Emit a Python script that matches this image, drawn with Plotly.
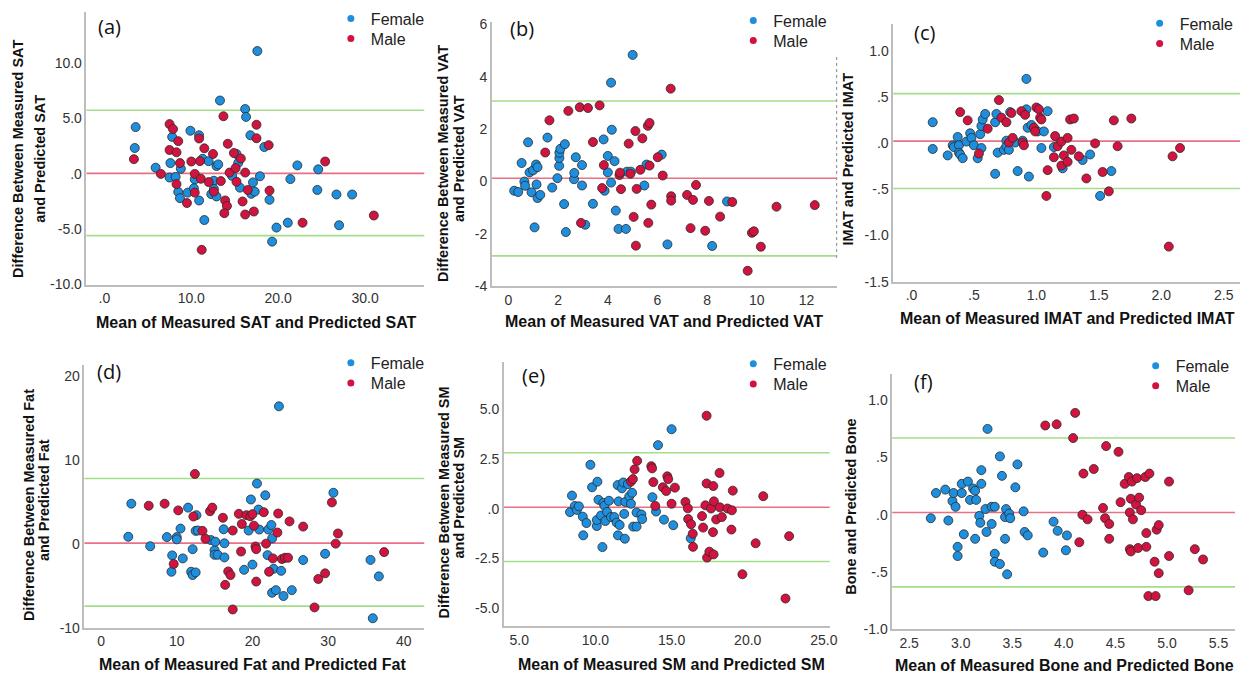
import plotly.graph_objects as go

W, H = 1248, 683

# ---------------- data ----------------
# (a) SAT
sat_f_x = [3.6,3.5,5.9,7.6,7.8,7.5,8.2,8.8,8.5,8.7,9.6,9.9,10.4,10.3,10.9,10.9,11.3,11.5,12.0,12.3,12.6,12.6,12.9,12.9,13.1,13.3,14.7,15.2,15.4,15.6,16.2,16.3,16.8,16.9,17.1,17.3,17.9,17.6,18.4,19.0,19.3,19.8,21.1,21.4,22.2,24.5,24.6,26.7,27.0,28.5]
sat_f_y = [4.23,2.34,0.56,0.98,3.34,-0.33,-0.27,0.47,-1.63,-2.19,-1.69,3.9,-0.5,-1.3,3.49,-2.4,1.36,-4.17,1.15,-1.83,-0.62,-1.36,-2.04,0.71,0.86,6.63,-0.18,1.8,1.0,-1.24,5.86,5.15,3.49,-1.8,-0.77,-1.6,-0.21,11.1,2.43,-2.34,-6.12,-4.85,-4.41,-0.47,0.77,-1.45,0.41,-1.86,-4.64,-1.86]
sat_m_x = [3.4,6.5,7.5,7.9,8.5,7.5,8.3,8.7,8.3,9.5,10.0,10.4,10.4,10.9,11.0,11.1,11.5,11.2,12.0,12.5,12.6,13.4,13.7,13.9,14.1,13.8,14.2,14.4,14.9,15.1,15.2,15.7,15.9,16.2,16.2,16.5,17.2,17.5,17.5,18.9,19.0,22.8,25.4,31.0]
sat_m_y = [1.33,0.0,4.5,4.05,2.96,2.16,1.95,0.98,-0.92,-2.63,1.12,0.0,-1.69,3.2,1.15,-0.44,2.31,-6.86,-0.74,1.8,-1.6,-0.65,5.21,-2.4,-2.9,-3.55,2.72,0.12,1.89,0.53,-0.71,1.39,-2.49,0.12,-3.67,-1.45,-3.4,4.44,3.22,2.6,-1.51,-4.41,1.12,-3.76]
sat_lines = [0.05, 5.75, -5.58]  # mean, upper, lower

# (b) VAT
vat_f_x = [0.23,0.39,0.53,0.64,0.67,0.79,0.85,0.93,0.99,1.05,1.11,1.17,1.13,1.17,1.28,1.57,1.76,1.97,2.04,2.05,2.05,2.09,2.24,2.27,2.31,2.64,2.65,2.71,2.96,2.96,3.09,3.4,3.83,3.87,4.0,4.0,4.13,4.16,4.13,4.27,4.32,4.43,4.73,4.77,4.93,5.0,5.47,5.56,6.17,6.4,8.2,8.8]
vat_f_y = [-0.35,-0.4,0.71,0.0,-0.16,1.5,0.35,-0.41,0.43,-1.75,0.65,0.55,-0.11,-0.63,-0.51,1.68,-0.23,0.13,0.6,0.9,1.1,1.25,-0.86,1.43,-1.93,0.09,0.33,0.93,0.63,-0.15,-1.65,-0.85,1.61,-0.35,0.98,0.35,3.78,1.98,-0.04,0.78,-1.11,-1.81,-1.81,0.38,0.38,4.84,-0.15,0.65,1.03,-2.4,-2.46,-0.76]
vat_m_x = [1.48,1.65,2.41,2.87,2.92,3.2,3.4,3.67,3.77,3.84,4.47,4.49,4.53,4.84,4.91,5.04,5.11,5.13,5.16,5.31,5.39,5.61,5.68,5.63,5.68,5.75,6.01,6.21,6.53,6.55,6.55,7.19,7.33,7.43,7.55,7.92,8.07,8.52,9.01,9.63,9.8,9.88,10.16,10.79,12.33]
vat_m_y = [1.11,2.34,2.7,2.84,-1.58,2.81,1.51,2.91,-0.25,0.63,0.25,0.34,-0.29,1.45,0.3,-1.35,1.93,-2.45,-0.28,0.45,1.65,2.13,2.24,-1.58,0.61,-0.88,0.93,0.23,3.55,-0.56,-0.73,-0.51,-1.78,-0.7,-0.13,-1.88,-0.74,-1.34,-0.78,-3.41,-1.96,-1.9,-2.49,-0.96,-0.9]
vat_lines = [0.125, 3.08, -2.84]

# (c) IMAT
imat_f_x = [0.17,0.17,0.29,0.33,0.34,0.37,0.38,0.38,0.39,0.41,0.44,0.47,0.48,0.5,0.53,0.55,0.56,0.56,0.57,0.59,0.67,0.67,0.68,0.69,0.74,0.76,0.76,0.78,0.79,0.83,0.85,0.89,0.92,0.92,0.93,0.94,0.96,1.01,1.04,1.06,1.09,1.14,1.21,1.37,1.43,1.51,1.6]
imat_f_y = [0.23,-0.06,-0.13,-0.02,-0.04,0.07,-0.02,-0.1,-0.12,-0.16,0.02,0.11,0.06,-0.02,-0.16,0.1,-0.05,0.19,0.26,0.32,-0.33,0.23,0.32,-0.1,-0.07,0.03,-0.03,-0.07,0.34,0.01,-0.3,0.03,0.7,0.37,0.17,-0.36,0.2,0.13,-0.05,0.13,0.35,-0.04,-0.27,-0.18,-0.12,-0.57,-0.3]
imat_m_x = [0.39,0.45,0.54,0.61,0.7,0.72,0.76,0.78,0.8,0.81,0.88,0.89,0.9,0.91,0.98,0.99,1.0,1.02,1.03,1.04,1.08,1.09,1.14,1.15,1.17,1.2,1.2,1.22,1.25,1.25,1.27,1.3,1.28,1.34,1.4,1.47,1.53,1.58,1.62,1.65,1.76,2.06,2.09,2.15]
imat_m_y = [0.34,0.25,-0.11,0.16,0.47,0.28,0.23,0.01,0.33,0.06,0.35,0.01,-0.02,0.31,0.17,0.13,0.39,0.37,0.28,0.26,-0.57,-0.29,-0.15,0.08,-0.03,0.02,-0.24,-0.13,-0.2,0.06,0.26,0.27,-0.07,-0.14,-0.38,0.0,-0.31,-0.52,0.25,-0.03,0.27,-1.12,-0.14,-0.05]
imat_lines = [0.025, 0.54, -0.49]

# (d) Fat
fat_f_x = [3.6,4.0,6.5,8.7,9.4,9.3,10.0,10.0,10.5,10.8,11.5,11.9,12.1,12.1,12.5,12.6,12.5,12.8,14.5,15.0,15.0,15.1,15.4,16.2,16.3,16.3,18.9,19.5,19.8,20.0,20.6,20.8,20.9,21.7,22.0,22.1,22.5,22.6,22.8,22.6,23.1,23.5,23.8,24.1,25.2,26.7,29.6,30.7,35.6,35.9,36.7]
fat_f_y = [0.86,4.8,-0.27,0.82,-1.36,-3.31,0.82,0.55,1.83,-1.72,4.33,-3.31,-3.7,-0.62,-3.39,3.43,1.56,1.6,0.47,-0.74,-1.29,0.27,-1.29,1.75,0.08,-1.6,-3.08,1.6,5.3,-2.46,7.2,4.1,1.72,5.8,-1.33,1.72,2.26,0.66,-2.96,-5.81,-5.5,16.4,-3.2,-6.2,-5.5,-1.91,-1.17,6.1,-1.9,-8.85,-3.86]
fat_m_x = [6.3,8.4,9.6,10.2,12.2,12.4,13.4,13.8,14.4,14.7,16.1,16.4,16.8,17.1,17.4,17.4,18.2,18.5,18.6,19.2,19.7,20.0,20.2,20.4,20.5,20.5,21.5,21.8,22.2,22.7,23.4,23.3,23.9,24.3,24.7,24.9,26.7,28.2,28.7,29.6,30.5,31.0,31.3,37.4]
fat_m_y = [4.56,4.8,-2.38,4.0,3.27,8.34,1.56,0.62,3.9,4.33,3.12,-4.87,-3.27,-3.7,1.6,-7.8,3.59,-0.9,2.38,3.43,3.3,3.55,2.18,-0.3,-0.62,-4.48,3.78,0.04,-3.31,-1.72,3.63,1.36,-1.79,-1.64,-1.64,2.69,2.07,-7.56,-4.17,-3.5,4.95,0.04,1.25,-0.97]
fat_lines = [0.1, 7.8, -7.4]

# (e) SM
sm_f_x = [8.33,8.46,8.65,8.78,8.91,9.17,9.2,9.41,9.67,9.78,10.09,10.09,10.13,10.2,10.37,10.46,10.52,10.59,10.65,10.76,10.89,11.02,11.24,11.39,11.46,11.48,11.52,11.59,11.74,11.83,11.89,11.93,11.96,12.13,12.22,12.33,12.41,12.48,12.7,12.7,13.02,13.07,13.74,13.98,14.11,14.5,15.0,15.11,16.26]
sm_f_y = [-0.16,0.67,0.15,-0.05,0.13,-0.39,-1.33,-0.71,2.22,1.09,-0.86,-0.56,1.37,0.46,-0.33,-1.92,0.3,0.16,-0.61,-0.15,0.41,-0.41,-0.41,-0.69,1.2,-1.33,0.38,-0.81,1.04,1.33,-0.25,-1.5,0.35,1.25,0.63,0.26,0.81,-0.89,-0.89,-0.18,-0.28,-0.51,0.59,-0.13,3.21,-0.54,4.01,-0.82,-1.48]
sm_m_x = [12.33,12.46,12.57,12.74,13.67,13.72,13.8,13.93,14.43,14.65,14.72,14.78,15.0,15.22,15.91,16.07,16.09,16.28,16.39,16.41,17.0,17.07,17.22,17.3,17.3,17.33,17.48,17.59,17.72,17.74,17.76,17.78,17.93,18.15,18.17,18.3,18.67,18.93,18.96,19.02,19.65,20.52,21.02,22.48,22.72]
sm_m_y = [1.38,1.5,1.99,2.42,2.15,2.04,1.35,0.15,1.09,0.9,1.64,1.5,0.26,1.07,0.35,0.03,-0.51,-0.77,-1.25,-1.91,-0.36,-0.94,0.18,4.69,1.28,-2.45,-2.15,0.02,-1.17,1.15,-2.29,0.38,-0.53,1.81,0.08,-0.41,0.02,-1.04,-0.07,0.92,-3.29,-1.73,0.64,-4.51,-1.37]
sm_lines = [0.08, 2.83, -2.65]

# (f) Bone
bone_f_x = [2.71,2.76,2.85,2.88,2.92,2.93,2.95,2.97,2.97,3.01,3.01,3.03,3.07,3.09,3.12,3.14,3.14,3.15,3.18,3.19,3.2,3.2,3.24,3.25,3.26,3.3,3.3,3.33,3.33,3.33,3.38,3.38,3.4,3.43,3.43,3.44,3.45,3.47,3.48,3.53,3.55,3.61,3.62,3.65,3.8,3.9,3.94,4.02,4.03]
bone_f_y = [-0.03,0.19,0.22,-0.05,0.12,0.19,0.07,-0.28,-0.36,0.27,0.19,-0.17,0.29,0.13,0.23,-0.21,0.21,0.13,-0.01,-0.07,0.39,0.27,0.05,-0.15,0.75,0.07,-0.08,0.07,-0.34,-0.41,0.51,-0.43,0.34,-0.02,-0.21,0.05,-0.52,0.01,-0.03,0.24,0.44,0.03,-0.15,-0.18,-0.33,-0.06,-0.14,-0.31,-0.18]
bone_m_x = [3.82,3.93,4.09,4.11,4.15,4.19,4.18,4.23,4.29,4.38,4.4,4.41,4.44,4.44,4.53,4.55,4.59,4.63,4.64,4.64,4.65,4.65,4.66,4.67,4.7,4.71,4.72,4.73,4.75,4.79,4.8,4.8,4.82,4.83,4.88,4.89,4.9,4.92,4.92,5.02,5.02,5.21,5.27,5.35]
bone_m_y = [0.78,0.79,0.67,0.89,-0.24,0.36,0.0,-0.04,0.4,0.06,-0.03,0.6,-0.08,-0.21,0.55,0.11,0.27,0.33,0.02,-0.3,-0.32,0.14,0.29,-0.04,0.09,0.32,-0.29,0.15,0.04,0.33,-0.28,-0.16,-0.71,0.36,-0.41,-0.71,-0.13,-0.09,-0.51,0.29,-0.36,-0.66,-0.3,-0.39]
bone_lines = [0.02, 0.67, -0.63]

# tick labels
sat_xt = [0, 10, 20, 30];            sat_xl = [".0", "10.0", "20.0", "30.0"]
sat_yt = [-10, -5, 0, 5, 10];        sat_yl = ["-10.0", "-5.0", ".0", "5.0", "10.0"]
vat_xt = [0, 2, 4, 6, 8, 10, 12];    vat_xl = ["0", "2", "4", "6", "8", "10", "12"]
vat_yt = [-4, -2, 0, 2, 4, 6];       vat_yl = ["-4", "-2", "0", "2", "4", "6"]
imat_xt = [0, 0.5, 1, 1.5, 2, 2.5];  imat_xl = [".0", ".5", "1.0", "1.5", "2.0", "2.5"]
imat_yt = [-1.5, -1, -0.5, 0, 0.5, 1]; imat_yl = ["-1.5", "-1.0", "-.5", ".0", ".5", "1.0"]
fat_xt = [0, 10, 20, 30, 40];        fat_xl = ["0", "10", "20", "30", "40"]
fat_yt = [-10, 0, 10, 20];           fat_yl = ["-10", "0", "10", "20"]
sm_xt = [5, 10, 15, 20, 25];         sm_xl = ["5.0", "10.0", "15.0", "20.0", "25.0"]
sm_yt = [-5, -2.5, 0, 2.5, 5];       sm_yl = ["-5.0", "-2.5", ".0", "2.5", "5.0"]
bone_xt = [2.5, 3, 3.5, 4, 4.5, 5, 5.5]; bone_xl = ["2.5", "3.0", "3.5", "4.0", "4.5", "5.0", "5.5"]
bone_yt = [-1, -0.5, 0, 0.5, 1];     bone_yl = ["-1.0", "-.5", ".0", ".5", "1.0"]

series_names = ["Female", "Male"]

# ---------------- layout helpers ----------------
BLUE = "#1E8FDF"
RED = "#D2133F"
GREEN = "#A3DD8C"
MEANC = "#E97186"
AXC = "#BDBDBD"
FONT = "Liberation Sans, Arial, sans-serif"

def px_x(p): return p / W
def px_y(p): return 1 - p / H

panels = [
    dict(fx=sat_f_x, fy=sat_f_y, mx=sat_m_x, my=sat_m_y, lines=sat_lines,
         dom=(87, 427, 7, 285), xr=[-2.06, 36.8], yr=[-10, 14.64],
         xt=sat_xt, xl=sat_xl, yt=sat_yt, yl=sat_yl,
         label="(a)", lab=(110, 22), leg=(359, 17),
         xtitle="Mean of Measured SAT and Predicted SAT", xtp=(258, 324),
         ytitles=[("Difference Between Measured SAT", 18, 157), ("and Predicted SAT", 40, 157)]),
    dict(fx=vat_f_x, fy=vat_f_y, mx=vat_m_x, my=vat_m_y, lines=vat_lines,
         dom=(495, 842, 17, 286.7), xr=[-0.67, 13.21], yr=[-4, 6.11],
         xt=vat_xt, xl=vat_xl, yt=vat_yt, yl=vat_yl,
         label="(b)", lab=(525, 24), leg=(764, 19),
         xtitle="Mean of Measured VAT and Predicted VAT", xtp=(668, 323),
         ytitles=[("Difference Between Measured VAT", 446, 162), ("and Predicted VAT", 462, 157)]),
    dict(fx=imat_f_x, fy=imat_f_y, mx=imat_m_x, my=imat_m_y, lines=imat_lines,
         dom=(899, 1248, 19, 282), xr=[-0.146, 2.63], yr=[-1.5, 1.30],
         xt=imat_xt, xl=imat_xl, yt=imat_yt, yl=imat_yl,
         label="(c)", lab=(930, 28), leg=(1173, 22),
         xtitle="Mean of Measured IMAT and Predicted IMAT", xtp=(1074, 320),
         ytitles=[("IMAT and Predicted IMAT", 853, 157)]),
    dict(fx=fat_f_x, fy=fat_f_y, mx=fat_m_x, my=fat_m_y, lines=fat_lines,
         dom=(85, 427, 367, 635), xr=[-2.19, 42.7], yr=[-10, 21.32],
         xt=fat_xt, xl=fat_xl, yt=fat_yt, yl=fat_yl,
         label="(d)", lab=(110, 374), leg=(359, 368),
         xtitle="Mean of Measured Fat and Predicted Fat", xtp=(254, 672),
         ytitles=[("Difference Between Measured Fat", 29, 510), ("and Predicted Fat", 45, 505)]),
    dict(fx=sm_f_x, fy=sm_f_y, mx=sm_m_x, my=sm_m_y, lines=sm_lines,
         dom=(507, 835, 364, 633), xr=[3.98, 25.38], yr=[-5.89, 7.39],
         xt=sm_xt, xl=sm_xl, yt=sm_yt, yl=sm_yl,
         label="(e)", lab=(537, 378), leg=(764, 369),
         xtitle="Mean of Measured SM and Predicted SM", xtp=(676, 672),
         ytitles=[("Difference Between Measured SM", 447, 507), ("and Predicted SM", 462, 502)]),
    dict(fx=bone_f_x, fy=bone_f_y, mx=bone_m_x, my=bone_m_y, lines=bone_lines,
         dom=(898, 1243, 376, 636.4), xr=[2.336, 5.66], yr=[-1.0, 1.231],
         xt=bone_xt, xl=bone_xl, yt=bone_yt, yl=bone_yl,
         label="(f)", lab=(929, 384), leg=(1169, 371),
         xtitle="Mean of Measured Bone and Predicted Bone", xtp=(1071, 673),
         ytitles=[("Bone and Predicted Bone", 857, 512)]),
]

fig = go.Figure()
layout = dict(width=W, height=H, margin=dict(l=0, r=0, t=0, b=0),
              paper_bgcolor="white", plot_bgcolor="white", showlegend=True,
              font=dict(family=FONT, color="#222"))
annotations = []
shapes = []
LEG_GAP = 20.5   # vertical distance between the two legend rows (px)

leg_idx = 0
for i, p in enumerate(panels, start=1):
    xa = "x" if i == 1 else f"x{i}"
    ya = "y" if i == 1 else f"y{i}"
    x0, x1, y0, y1 = p["dom"]
    common = dict(showgrid=False, zeroline=False, showline=True, linecolor=AXC,
                  linewidth=1.5, ticks="", tickfont=dict(size=14, color="#333", family=FONT),
                  fixedrange=True)
    layout["xaxis" if i == 1 else f"xaxis{i}"] = dict(
        domain=[px_x(x0), px_x(x1)], range=p["xr"], anchor=ya,
        tickmode="array", tickvals=p["xt"], ticktext=p["xl"], **common)
    layout["yaxis" if i == 1 else f"yaxis{i}"] = dict(
        domain=[px_y(y1), px_y(y0)], range=p["yr"], anchor=xa,
        tickmode="array", tickvals=p["yt"], ticktext=p["yl"], **common)

    mean, up, lo = p["lines"]
    for val, col in [(up, GREEN), (lo, GREEN), (mean, MEANC)]:
        shapes.append(dict(type="line", xref=f"{xa} domain", yref=ya, x0=0, x1=1,
                           y0=val, y1=val, line=dict(color=col, width=1.6), layer="below"))

    mk = dict(size=9, line=dict(color="#2a2a2a", width=0.8))
    fig.add_trace(go.Scatter(x=p["fx"], y=p["fy"], mode="markers", xaxis=xa, yaxis=ya,
                             marker=dict(color=BLUE, **mk), showlegend=False, name=series_names[0]))
    fig.add_trace(go.Scatter(x=p["mx"], y=p["my"], mode="markers", xaxis=xa, yaxis=ya,
                             marker=dict(color=RED, **mk), showlegend=False, name=series_names[1]))
    # legend entries, one legend box per entry so rows can be placed like the original
    lx, ly = p["leg"]
    for k, (nm, col) in enumerate(zip(series_names, [BLUE, RED])):
        leg_idx += 1
        lg = "legend" if leg_idx == 1 else f"legend{leg_idx}"
        fig.add_trace(go.Scatter(x=[None], y=[None], mode="markers", xaxis=xa, yaxis=ya,
                                 marker=dict(color=col, size=7), name=nm, legend=lg))
        dot_y = ly + k * LEG_GAP
        layout[lg] = dict(x=px_x(lx - 26), y=px_y(dot_y - 20.5), xanchor="left", yanchor="top",
                          bgcolor="rgba(0,0,0,0)", font=dict(size=16, color="#222", family=FONT),
                          itemwidth=30, borderwidth=0)

    annotations.append(dict(text=p["label"], xref="paper", yref="paper",
                            x=px_x(p["lab"][0]), y=px_y(p["lab"][1]), showarrow=False,
                            xanchor="center", yanchor="middle",
                            font=dict(size=20, color="#111", family="Open Sans, sans-serif")))
    annotations.append(dict(text=f"<b>{p['xtitle']}</b>", xref="paper", yref="paper",
                            x=px_x(p["xtp"][0]), y=px_y(p["xtp"][1]), showarrow=False,
                            xanchor="center", yanchor="middle",
                            font=dict(size=16, color="#111", family=FONT)))
    for txt, tx, ty in p["ytitles"]:
        annotations.append(dict(text=f"<b>{txt}</b>", xref="paper", yref="paper",
                                x=px_x(tx), y=px_y(ty), showarrow=False, textangle=-90,
                                xanchor="center", yanchor="middle",
                                font=dict(size=14.5, color="#111", family=FONT)))

# dotted frame edge between (b) and (c)
shapes.append(dict(type="line", xref="paper", yref="paper", x0=px_x(842), x1=px_x(842),
                   y0=px_y(53), y1=px_y(258), line=dict(color="#9a9a9a", width=1.2, dash="dot")))

layout["annotations"] = annotations
layout["shapes"] = shapes
fig.update_layout(**layout)
fig.write_html("out.html", config={"displayModeBar": False},
               post_script="document.body.style.margin='0';document.body.style.padding='0';")
